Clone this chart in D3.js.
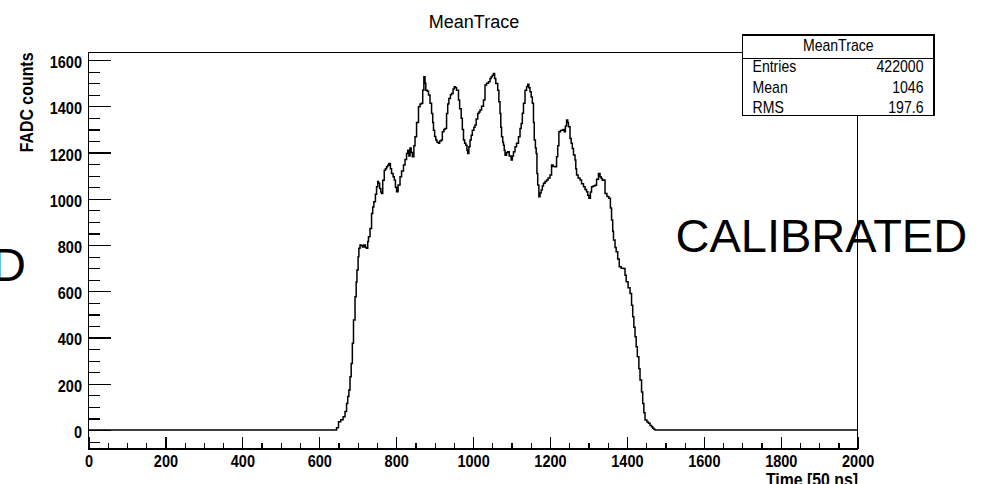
<!DOCTYPE html>
<html>
<head>
<meta charset="utf-8">
<script src="https://cdn.jsdelivr.net/npm/d3@7"></script>
<style>
  html, body { margin: 0; padding: 0; background: #fff; }
  svg { display: block; }
  .root-text { font-family: "Liberation Sans", Arial, Helvetica, sans-serif; fill: #000; }
</style>
</head>
<body>
<svg id="chart" width="989" height="484"></svg>
<script>
// Mean FADC trace: bin start time [50 ns] and mean counts in that bin
const timeBins = [
  0, 640, 645, 650, 656, 662, 667, 671, 674, 677, 680, 683, 686, 689, 693, 696, 698, 701, 703, 706,
  709, 712, 716, 720, 723, 726, 728, 732, 736, 739, 742, 746, 749, 752, 754, 757, 760, 762, 765, 769,
  772, 775, 778, 781, 785, 788, 792, 795, 798, 801, 805, 810, 814, 819, 823, 827, 830, 833, 836, 839,
  842, 846, 849, 853, 858, 862, 866, 869, 872, 875, 877, 881, 884, 888, 892, 895, 897, 900, 903, 906,
  910, 913, 917, 920, 924, 927, 931, 934, 937, 941, 944, 948, 951, 954, 957, 962, 965, 969, 972, 975,
  978, 981, 984, 986, 989, 992, 995, 998, 1002, 1005, 1008, 1012, 1015, 1018, 1022, 1027, 1031, 1035, 1040, 1044,
  1047, 1050, 1053, 1056, 1059, 1064, 1067, 1070, 1072, 1074, 1077, 1079, 1081, 1083, 1087, 1090, 1094, 1099, 1102, 1105,
  1109, 1113, 1118, 1122, 1125, 1128, 1131, 1135, 1139, 1142, 1145, 1148, 1151, 1154, 1157, 1159, 1162, 1164, 1166, 1168,
  1171, 1174, 1177, 1180, 1183, 1187, 1191, 1195, 1200, 1204, 1208, 1213, 1217, 1220, 1223, 1227, 1230, 1234, 1237, 1240,
  1243, 1246, 1248, 1252, 1255, 1258, 1261, 1265, 1267, 1269, 1273, 1278, 1282, 1287, 1291, 1295, 1298, 1301, 1305, 1308,
  1312, 1317, 1321, 1326, 1330, 1333, 1336, 1339, 1343, 1348, 1353, 1357, 1360, 1363, 1365, 1369, 1372, 1376, 1380, 1385,
  1391, 1395, 1398, 1403, 1408, 1412, 1415, 1418, 1421, 1424, 1427, 1431, 1434, 1438, 1441, 1444, 1447, 1452, 1456, 1460,
  1464, 1467, 1470, 1473, 2000
];
const fadcCounts = [
  0, 0, 10, 36, 45, 58, 80, 115, 145, 173, 230, 288, 375, 476, 576, 640, 692, 750, 786, 800,
  798, 792, 800, 790, 786, 815, 836, 872, 937, 965, 987, 1020, 1052, 1075, 1067, 1045, 1030, 1023, 1080, 1124,
  1130, 1139, 1145, 1153, 1130, 1110, 1095, 1081, 1050, 1031, 1060, 1096, 1120, 1146, 1170, 1196, 1210, 1185, 1220, 1200,
  1182, 1230, 1268, 1330, 1398, 1410, 1413, 1470, 1528, 1500, 1470, 1465, 1449, 1413, 1369, 1330, 1297, 1270, 1254, 1245,
  1240, 1250, 1254, 1290, 1300, 1304, 1369, 1410, 1434, 1450, 1456, 1475, 1485, 1480, 1470, 1427, 1390, 1348, 1300, 1254,
  1240, 1232, 1210, 1196, 1225, 1254, 1275, 1297, 1310, 1319, 1345, 1369, 1375, 1384, 1400, 1427, 1492, 1500, 1506, 1520,
  1528, 1535, 1542, 1520, 1499, 1470, 1420, 1369, 1310, 1268, 1245, 1232, 1210, 1189, 1200, 1204, 1185, 1168, 1185, 1204,
  1225, 1240, 1268, 1304, 1326, 1370, 1413, 1470, 1485, 1496, 1480, 1463, 1440, 1413, 1330, 1254, 1220, 1196, 1110, 1060,
  1009, 1025, 1038, 1055, 1067, 1075, 1081, 1090, 1103, 1146, 1140, 1139, 1182, 1230, 1290, 1295, 1297, 1300, 1290, 1315,
  1341, 1330, 1312, 1261, 1240, 1218, 1190, 1168, 1130, 1103, 1090, 1081, 1065, 1052, 1040, 1031, 1015, 1002, 1030, 1052,
  1055, 1059, 1085, 1110, 1095, 1088, 1080, 1081, 1023, 1010, 1002, 960, 908, 860, 822, 790, 771, 740, 706, 700,
  699, 670, 641, 615, 591, 540, 490, 445, 404, 360, 317, 265, 216, 165, 115, 75, 43, 35, 29, 20,
  14, 8, 3, 0, 0
];

const xMajorTicks = [0, 200, 400, 600, 800, 1000, 1200, 1400, 1600, 1800, 2000];
const yMajorTicks = [0, 200, 400, 600, 800, 1000, 1200, 1400, 1600];

const plotTitle = "MeanTrace";
const xTitle = "Time [50 ns]";
const yTitle = "FADC counts";
const statLabels = ["Entries", "Mean", "RMS"];
const statValues = ["422000", "1046", "197.6"];

const svg = d3.select("#chart");
const fontFamily = '"Liberation Sans", Arial, Helvetica, sans-serif';
const squeeze = 0.88; // narrow glyphs of the original canvas fonts

const x = d3.scaleLinear().domain([0, 2000]).range([88.5, 857.7]);
const y = d3.scaleLinear().domain([-82, 1632]).range([449, 52.7]);

// overlay captions sitting behind the frame
svg.append("text").attr("class", "root-text")
  .attr("x", 675.5).attr("y", 252)
  .style("font-size", "47px")
  .text("CALIBRATED");
svg.append("text").attr("class", "root-text")
  .attr("x", -8).attr("y", 281)
  .style("font-size", "47px")
  .text("D");

// histogram trace
const pts = timeBins.map((t, i) => [t, fadcCounts[i]]);
svg.append("path")
  .datum(pts)
  .attr("fill", "none")
  .attr("stroke", "#000")
  .attr("stroke-width", 1.5)
  .attr("stroke-linejoin", "miter")
  .attr("d", d3.line().x(d => x(d[0])).y(d => y(d[1])).curve(d3.curveStepAfter));

// frame
svg.append("rect")
  .attr("x", x.range()[0]).attr("y", y.range()[1])
  .attr("width", x.range()[1] - x.range()[0])
  .attr("height", y.range()[0] - y.range()[1])
  .attr("fill", "none").attr("stroke", "#000").attr("stroke-width", 1.2)
  .attr("shape-rendering", "crispEdges");

function styleAxis(g) {
  g.select(".domain").remove();
  g.selectAll("line").attr("stroke", "#000").attr("stroke-width", 1.2).attr("shape-rendering", "crispEdges");
}

// x axis: major and minor ticks point inward
const xMinor = d3.range(0, 2001, 50).filter(v => v % 200 !== 0);
svg.append("g")
  .attr("transform", `translate(0,${y.range()[0]})`)
  .call(d3.axisBottom(x).tickValues(xMinor).tickSize(-6).tickFormat(""))
  .call(styleAxis);
const xAxis = svg.append("g")
  .attr("transform", `translate(0,${y.range()[0]})`)
  .call(d3.axisBottom(x).tickValues(xMajorTicks).tickSize(-12).tickPadding(6.5).tickFormat(d3.format("d")))
  .call(styleAxis);
xAxis.selectAll("text")
  .attr("fill", "#000")
  .style("font-family", fontFamily).style("font-weight", "bold").style("font-size", "16.5px")
  .attr("transform", `scale(${squeeze},1)`);

// y axis
const yMinor = d3.range(-50, 1632, 50).filter(v => v % 200 !== 0);
svg.append("g")
  .attr("transform", `translate(${x.range()[0]},0)`)
  .call(d3.axisLeft(y).tickValues(yMinor).tickSize(-11).tickFormat(""))
  .call(styleAxis);
const yAxis = svg.append("g")
  .attr("transform", `translate(${x.range()[0]},0)`)
  .call(d3.axisLeft(y).tickValues(yMajorTicks).tickSize(-22).tickPadding(7.4).tickFormat(d3.format("d")))
  .call(styleAxis);
yAxis.selectAll("text")
  .attr("fill", "#000")
  .attr("dy", "0.45em")
  .style("font-family", fontFamily).style("font-weight", "bold").style("font-size", "16.5px")
  .attr("transform", `scale(${squeeze},1)`);

// titles
svg.append("text").attr("class", "root-text")
  .attr("x", 474).attr("y", 28)
  .attr("text-anchor", "middle")
  .style("font-size", "18px")
  .text(plotTitle);

svg.append("text").attr("class", "root-text")
  .attr("text-anchor", "end")
  .style("font-size", "18px").style("font-weight", "bold")
  .attr("transform", `translate(858,486) scale(${squeeze},1)`)
  .text(xTitle);

svg.append("text").attr("class", "root-text")
  .attr("text-anchor", "end")
  .style("font-size", "18.5px").style("font-weight", "bold")
  .attr("transform", `translate(33.3,52.5) rotate(-90) scale(0.86,1)`)
  .text(yTitle);

// statistics box
const box = { x0: 742.5, x1: 934, y0: 35, y1: 115.5, sep: 58.3 };
const stats = svg.append("g");
stats.append("rect")
  .attr("x", box.x0).attr("y", box.y0)
  .attr("width", box.x1 - box.x0).attr("height", box.y1 - box.y0)
  .attr("fill", "#fff").attr("stroke", "#000").attr("stroke-width", 1.2)
  .attr("shape-rendering", "crispEdges");
stats.append("line")
  .attr("x1", box.x0).attr("x2", box.x1).attr("y1", box.sep).attr("y2", box.sep)
  .attr("stroke", "#000").attr("stroke-width", 1.2).attr("shape-rendering", "crispEdges");
stats.append("text").attr("class", "root-text")
  .attr("text-anchor", "middle")
  .style("font-size", "16px")
  .attr("transform", `translate(${(box.x0 + box.x1) / 2},51) scale(${squeeze},1)`)
  .text(plotTitle);
const rowY = [72, 92.5, 112.5];
statLabels.forEach((lab, i) => {
  stats.append("text").attr("class", "root-text")
    .style("font-size", "16px")
    .attr("transform", `translate(752.5,${rowY[i]}) scale(${squeeze},1)`)
    .text(lab);
  stats.append("text").attr("class", "root-text")
    .attr("text-anchor", "end")
    .style("font-size", "16px")
    .attr("transform", `translate(923.5,${rowY[i]}) scale(${squeeze},1)`)
    .text(statValues[i]);
});
</script>
</body>
</html>
